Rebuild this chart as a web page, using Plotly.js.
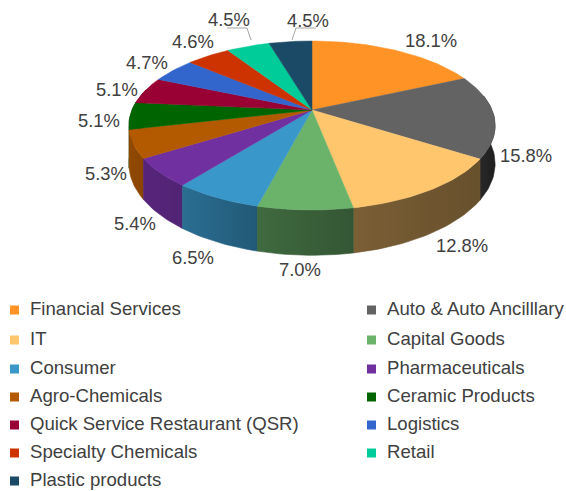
<!DOCTYPE html>
<html>
<head>
<meta charset="utf-8">
<script src="https://cdn.plot.ly/plotly-3.0.1.min.js"></script>
<style>html,body{margin:0;padding:0;background:#fff}#chart{width:566px;height:491px}</style>
</head>
<body>
<div id="chart"></div>
<script>
const categories = ["Financial Services","Auto & Auto Ancilllary","IT","Capital Goods","Consumer","Pharmaceuticals","Agro-Chemicals","Ceramic Products","Quick Service Restaurant (QSR)","Logistics","Specialty Chemicals","Retail","Plastic products"];
const shares = [18.1,15.8,12.8,7.0,6.5,5.4,5.3,5.1,5.1,4.7,4.6,4.5,4.5];
const colors = ["#ff9326","#636363","#ffc66e","#6bb36b","#3a97c9","#7030a0","#b35a00","#006400","#990033","#3366cc","#cc3300","#00cc99","#1a4a66"];
const labelX = [431,526,462,300,193,135,106,99,117,147,193,229,308];
const labelY = [40,155,245,269,257,223,173,120,89,62,41,19,20];

const CX=312, CY=110, R=180, RY=81.66, K=0.1834, H=37;
const TEXT="#404040", FONT='"Liberation Sans", Arial, sans-serif';
const rad=d=>d*Math.PI/180;
function pt(theta,drop){
  const u=Math.sin(rad(theta)), v=-Math.cos(rad(theta)), s=1/(1-K*v);
  return [CX+R*u*s, CY+RY*v*s+(drop?H*s:0)];
}
function rgb(hex){return [1,3,5].map(i=>parseInt(hex.substr(i,2),16));}
function shadeFactor(t){
  const st=[[90,.30],[120,.40],[180,.50],[215,.72],[260,.82],[280,.82]];
  if(t<=st[0][0])return st[0][1];
  for(let i=1;i<st.length;i++){ if(t<=st[i][0]){const a=st[i-1],b=st[i];return a[1]+(b[1]-a[1])*(t-a[0])/(b[0]-a[0]);} }
  return st[st.length-1][1];
}
function shaded(hex,f){const c=rgb(hex).map(x=>Math.round(x*f));return `rgb(${c[0]},${c[1]},${c[2]})`;}

const total=shares.reduce((a,b)=>a+b,0);
let acc=0;
const slices=shares.map((v,i)=>{const a=acc/total*360;acc+=v;return {i,a,b:acc/total*360};});
function arc(a,b,drop){const n=Math.max(2,Math.ceil((b-a)/1.5));const out=[];for(let j=0;j<=n;j++)out.push(pt(a+(b-a)*j/n,drop));return out;}

const traces=[];
const W0=80,W1=285;
const walls=slices.filter(s=>s.b>W0&&s.a<W1).map(s=>({i:s.i,a:Math.max(s.a,W0),b:Math.min(s.b,W1)}));
walls.sort((p,q)=>Math.abs((q.a+q.b)/2-180)-Math.abs((p.a+p.b)/2-180));
walls.forEach(w=>{
  const top=arc(w.a,w.b,false), bot=arc(w.a,w.b,true).reverse(), poly=top.concat(bot); poly.push(top[0]);
  const cR=shaded(colors[w.i],shadeFactor(w.a)), cL=shaded(colors[w.i],shadeFactor(w.b));
  traces.push({type:"scatter",mode:"lines",x:poly.map(p=>p[0]),y:poly.map(p=>p[1]),fill:"toself",
    fillgradient:{type:"horizontal",colorscale:[[0,cL],[1,cR]]},
    line:{width:0.6,color:shaded(colors[w.i],shadeFactor((w.a+w.b)/2))},hoverinfo:"skip",showlegend:false});
});
slices.forEach(s=>{
  const poly=[[CX,CY]].concat(arc(s.a,s.b,false)); poly.push([CX,CY]);
  traces.push({type:"scatter",mode:"lines",name:categories[s.i],x:poly.map(p=>p[0]),y:poly.map(p=>p[1]),fill:"toself",
    fillcolor:colors[s.i],line:{width:0.5,color:colors[s.i]},hoverinfo:"name",showlegend:false});
});
const legX=categories.map((c,i)=>i%2?371.5:14.5);
const legRow=[310,340,369,397,425,453,481];
const legY=categories.map((c,i)=>legRow[Math.floor(i/2)]);
traces.push({type:"scatter",mode:"markers",x:legX,y:legY,marker:{symbol:"square",size:9,color:colors,line:{width:0}},hoverinfo:"skip",showlegend:false});

const annotations=[];
shares.forEach((v,i)=>annotations.push({x:labelX[i],y:labelY[i],xref:"x",yref:"y",text:v.toFixed(1)+"%",showarrow:false,xanchor:"center",yanchor:"middle",font:{family:FONT,size:18.4,color:TEXT}}));
categories.forEach((c,i)=>annotations.push({x:legX[i]+13.5,y:legY[i]-2,xref:"x",yref:"y",text:c.replace(/&/g,"&amp;"),showarrow:false,xanchor:"left",yanchor:"middle",font:{family:FONT,size:18.6,color:TEXT}}));

const leader=(xs,ys)=>({type:"path",xref:"x",yref:"y",path:"M"+xs.map((x,i)=>x+","+ys[i]).join("L"),line:{color:"#a6a6a6",width:1}});
Plotly.newPlot("chart",traces,{
  width:566,height:491,margin:{l:0,r:0,t:0,b:0},paper_bgcolor:"#fff",plot_bgcolor:"#fff",showlegend:false,
  xaxis:{range:[0,566],visible:false,fixedrange:true},
  yaxis:{range:[491,0],visible:false,fixedrange:true},
  annotations,
  shapes:[leader([227,247,251],[28,28,40]),leader([316,296,292],[28,28,40])]
},{displayModeBar:false});
</script>
</body>
</html>
